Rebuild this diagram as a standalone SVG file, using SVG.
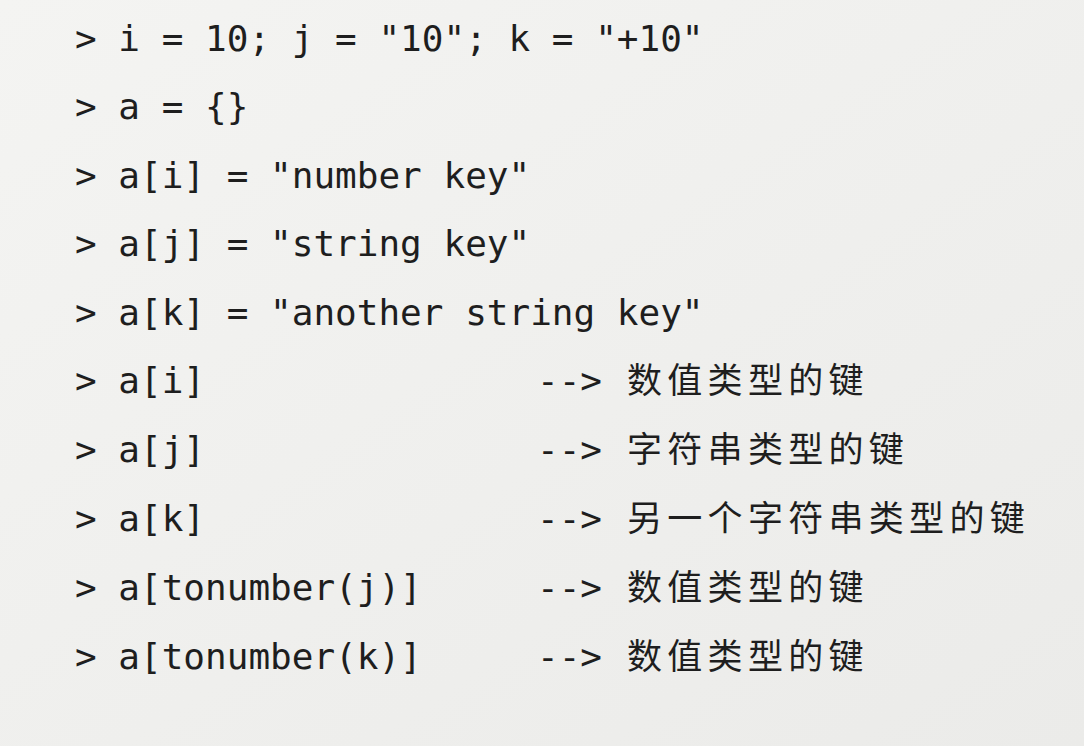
<svg xmlns="http://www.w3.org/2000/svg" width="1084" height="746" viewBox="0 0 1084 746">
<defs>
<linearGradient id="bg" x1="0" y1="0" x2="1" y2="1">
<stop offset="0" stop-color="#f4f4f2"/>
<stop offset="1" stop-color="#ebebe9"/>
</linearGradient>
<style>
.c{font-family:"DejaVu Sans Mono","Liberation Mono",monospace;font-size:36px;fill:#1e1e1e;white-space:pre}
.z{font-family:"Noto Sans CJK SC","Noto Sans CJK JP",sans-serif;font-size:35px;letter-spacing:5.3px;fill:#1e1e1e}
</style>
</defs>
<rect width="1084" height="746" fill="url(#bg)"/>
<g id="code">
<text class="c" x="75" y="51">&gt; i = 10; j = "10"; k = "+10"</text>
<text class="c" x="75" y="119">&gt; a = {}</text>
<text class="c" x="75" y="188">&gt; a[i] = "number key"</text>
<text class="c" x="75" y="256">&gt; a[j] = "string key"</text>
<text class="c" x="75" y="325">&gt; a[k] = "another string key"</text>
<text class="c" x="75" y="393">&gt; a[i]</text>
<text class="c" x="75" y="462">&gt; a[j]</text>
<text class="c" x="75" y="531">&gt; a[k]</text>
<text class="c" x="75" y="600">&gt; a[tonumber(j)]</text>
<text class="c" x="75" y="669">&gt; a[tonumber(k)]</text>
<text class="c" x="537" y="393">--&gt;</text>
<text class="c" x="537" y="462">--&gt;</text>
<text class="c" x="537" y="531">--&gt;</text>
<text class="c" x="537" y="600">--&gt;</text>
<text class="c" x="537" y="669">--&gt;</text>
<text class="z" x="627" y="393">数值类型的键</text>
<text class="z" x="627" y="462">字符串类型的键</text>
<text class="z" x="627" y="531">另一个字符串类型的键</text>
<text class="z" x="627" y="600">数值类型的键</text>
<text class="z" x="627" y="669">数值类型的键</text>
</g>
</svg>
